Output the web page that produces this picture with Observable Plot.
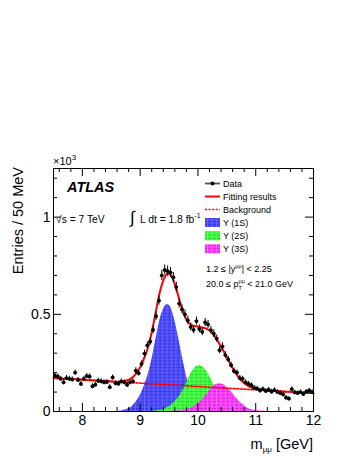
<!DOCTYPE html>
<html><head><meta charset="utf-8">
<script src="https://cdn.jsdelivr.net/npm/d3@7"></script>
<script src="https://cdn.jsdelivr.net/npm/@observablehq/plot@0.6"></script>
<style>
body{margin:0;background:#fff;}
svg text{font-family:"Liberation Sans",Arial,Helvetica,sans-serif;}
</style>
</head><body><div id="chart"></div>
<script>
// ---- data (units: 10^3 entries per 50 MeV bin) ----
const binLow = 7.5, binWidth = 0.05;
const dataVals = [
 0.185,0.180,0.168,0.150,0.172,0.168,0.165,0.200,0.162,0.142,
 0.168,0.182,0.180,0.130,0.138,0.158,0.155,0.150,0.152,0.125,
 0.175,0.145,0.143,0.155,0.150,0.137,0.150,0.155,0.210,0.197,
 0.245,0.298,0.340,0.360,0.420,0.490,0.570,0.700,0.728,0.722,
 0.715,0.690,0.640,0.555,0.525,0.500,0.470,0.435,0.420,0.465,
 0.425,0.410,0.458,0.448,0.418,0.400,0.375,0.315,0.335,0.290,
 0.268,0.238,0.208,0.200,0.172,0.168,0.150,0.142,0.135,0.122,
 0.118,0.108,0.115,0.105,0.112,0.102,0.110,0.100,0.095,0.088,
 0.071,0.066,0.115,0.098,0.095,0.100,0.090,0.102,0.108,0.100];
const dataErr = [
 0.013,0.013,0.013,0.013,0.013,0.013,0.013,0.014,0.013,0.013,
 0.013,0.013,0.013,0.013,0.013,0.013,0.013,0.013,0.013,0.013,
 0.013,0.013,0.013,0.013,0.013,0.013,0.013,0.013,0.015,0.015,
 0.016,0.017,0.018,0.019,0.020,0.021,0.023,0.026,0.026,0.026,
 0.026,0.025,0.025,0.023,0.023,0.022,0.021,0.020,0.020,0.021,
 0.020,0.020,0.021,0.021,0.020,0.020,0.019,0.018,0.018,0.017,
 0.016,0.015,0.015,0.014,0.013,0.013,0.012,0.012,0.012,0.012,
 0.012,0.012,0.012,0.012,0.012,0.012,0.012,0.012,0.012,0.012,
 0.011,0.011,0.011,0.011,0.011,0.011,0.011,0.011,0.011,0.011];
const fitVals = [
 0.172,0.171,0.170,0.169,0.168,0.167,0.166,0.166,0.165,0.164,
 0.163,0.162,0.161,0.160,0.160,0.159,0.158,0.157,0.156,0.155,
 0.154,0.153,0.153,0.155,0.157,0.161,0.167,0.178,0.194,0.216,
 0.242,0.280,0.320,0.374,0.443,0.519,0.594,0.652,0.691,0.709,
 0.704,0.675,0.631,0.578,0.528,0.488,0.460,0.448,0.440,0.438,
 0.435,0.432,0.429,0.421,0.412,0.394,0.372,0.347,0.320,0.293,
 0.265,0.237,0.211,0.188,0.168,0.153,0.140,0.130,0.123,0.118,
 0.115,0.112,0.110,0.108,0.107,0.107,0.106,0.105,0.104,0.103,
 0.102,0.101,0.101,0.100,0.099,0.098,0.097,0.096,0.095,0.095];
const fitEdgeMass = [7.5, 12];
const fitEdgeVals = [0.172, 0.094];
const bgMass = [7.5, 12];
const bgVals = [0.172, 0.094];
const ups1S = [
 0,0,0,0,0,0,0,0,0,0,
 0,0,0,0,0,0,0,0,0,0,
 0,0,0.001,0.003,0.006,0.011,0.018,0.030,0.047,0.069,
 0.096,0.135,0.176,0.231,0.300,0.375,0.449,0.504,0.539,0.551,
 0.537,0.497,0.436,0.365,0.289,0.218,0.155,0.106,0.068,0.042,
 0.024,0.013,0.007,0.003,0.002,0.001,0,0,0,0,
 0,0,0,0,0,0,0,0,0,0,
 0,0,0,0,0,0,0,0,0,0,
 0,0,0,0,0,0,0,0,0,0];
const ups2S = [
 0,0,0,0,0,0,0,0,0,0,
 0,0,0,0,0,0,0,0,0,0,
 0,0,0,0,0,0,0,0,0,0,
 0,0,0,0,0.001,0.003,0.005,0.008,0.013,0.020,
 0.030,0.041,0.058,0.076,0.100,0.129,0.161,0.193,0.217,0.232,
 0.237,0.232,0.217,0.195,0.168,0.138,0.109,0.082,0.059,0.041,
 0.027,0.017,0.010,0.006,0.003,0.002,0.001,0,0,0,
 0,0,0,0,0,0,0,0,0,0,
 0,0,0,0,0,0,0,0,0,0];
const ups3S = [
 0,0,0,0,0,0,0,0,0,0,
 0,0,0,0,0,0,0,0,0,0,
 0,0,0,0,0,0,0,0,0,0,
 0,0,0,0,0,0,0,0,0,0,
 0,0.001,0.002,0.003,0.005,0.008,0.012,0.018,0.025,0.035,
 0.046,0.060,0.078,0.097,0.117,0.131,0.140,0.143,0.140,0.131,
 0.118,0.101,0.083,0.065,0.049,0.036,0.025,0.016,0.010,0.006,
 0.004,0.002,0.001,0,0,0,0,0,0,0,
 0,0,0,0,0,0,0,0,0,0];
const xMajorTicks = [8, 9, 10, 11, 12];
const xTickLabels = ["8", "9", "10", "11", "12"];
const xMinorTicks = [7.6,7.8,8.2,8.4,8.6,8.8,9.2,9.4,9.6,9.8,10.2,10.4,10.6,10.8,11.2,11.4,11.6,11.8];
const yMajorTicks = [0, 0.5, 1];
const yTickLabels = ["0", "0.5", "1"];
const yMinorTicks = [0.1,0.2,0.3,0.4,0.6,0.7,0.8,0.9,1.1,1.2];
const legendLabels = ["Data", "Fitting results", "Background", "Υ (1S)", "Υ (2S)", "Υ (3S)"];

// ---- build tables ----
const rows = dataVals.map((v, i) => ({
  m: binLow + binWidth * (i + 0.5), v, e: dataErr[i],
  s1: ups1S[i], s2: ups2S[i], s3: ups3S[i]
}));
const fitRows = [{m: fitEdgeMass[0], v: fitEdgeVals[0]}]
  .concat(rows.map((r, i) => ({m: r.m, v: fitVals[i]})))
  .concat([{m: fitEdgeMass[1], v: fitEdgeVals[1]}]);
const bgRows = bgMass.map((m, i) => ({m, v: bgVals[i]}));

// layout
const W = 357, H = 462, mL = 53, mR = 44, mT = 168, mB = 51;
const frameW = W - mL - mR, frameH = H - mT - mB;
const majorLen = 8, minorLen = 4;

const plot = Plot.plot({
  width: W, height: H,
  marginLeft: mL, marginRight: mR, marginTop: mT, marginBottom: mB,
  x: {domain: [7.5, 12], label: null},
  y: {domain: [0, 1.25], label: null},
  style: {background: "white", color: "black", fontFamily: "'Liberation Sans', Arial, sans-serif", fontSize: "14px", overflow: "visible"},
  marks: [
    Plot.areaY(rows, {x: "m", y: "s1", fill: "url(#pat1S)", curve: "monotone-x"}),
    Plot.areaY(rows, {x: "m", y: "s2", fill: "url(#pat2S)", curve: "monotone-x"}),
    Plot.areaY(rows, {x: "m", y: "s3", fill: "url(#pat3S)", curve: "monotone-x"}),
    Plot.line(bgRows, {x: "m", y: "v", stroke: "#ff0000", strokeWidth: 1.6, strokeDasharray: "2,1.6"}),
    Plot.line(fitRows, {x: "m", y: "v", stroke: "#ff0000", strokeWidth: 2, curve: "monotone-x"}),
    Plot.ruleX(rows, {x: "m", y1: r => r.v - r.e, y2: r => r.v + r.e, stroke: "black", strokeWidth: 1}),
    Plot.ruleY(rows, {y: "v", x1: r => r.m - binWidth / 2, x2: r => r.m + binWidth / 2, stroke: "black", strokeWidth: 1}),
    Plot.dot(rows, {x: "m", y: "v", r: 1.9, fill: "black", stroke: null}),
    Plot.frame({stroke: "black", strokeWidth: 1}),
    // inward ticks (bottom, top, left, right)
    Plot.tickX(xMinorTicks, {x: d => d, insetTop: frameH - minorLen, stroke: "black"}),
    Plot.tickX(xMajorTicks, {x: d => d, insetTop: frameH - majorLen, stroke: "black"}),
    Plot.tickX(xMinorTicks, {x: d => d, insetBottom: frameH - minorLen, stroke: "black"}),
    Plot.tickX(xMajorTicks, {x: d => d, insetBottom: frameH - majorLen, stroke: "black"}),
    Plot.tickY(yMinorTicks, {y: d => d, insetRight: frameW - minorLen, stroke: "black"}),
    Plot.tickY(yMajorTicks, {y: d => d, insetRight: frameW - majorLen, stroke: "black"}),
    Plot.tickY(yMinorTicks, {y: d => d, insetLeft: frameW - minorLen, stroke: "black"}),
    Plot.tickY(yMajorTicks, {y: d => d, insetLeft: frameW - majorLen, stroke: "black"}),
    // tick labels
    Plot.axisX(xMajorTicks, {anchor: "bottom", tickSize: 0, tickPadding: 4, tickFormat: d => xTickLabels[xMajorTicks.indexOf(d)], label: null}),
    Plot.axisY(yMajorTicks, {anchor: "left", tickSize: 0, tickPadding: 3, tickFormat: d => yTickLabels[yMajorTicks.indexOf(d)], label: null})
  ]
});
document.getElementById("chart").appendChild(plot);

// ---- patterns ----
const svg = d3.select(plot);
const defs = svg.insert("defs", ":first-child");
function addPattern(id, base, line, light) {
  const p = defs.append("pattern").attr("id", id).attr("patternUnits", "userSpaceOnUse")
    .attr("width", 4.5).attr("height", 3.4);
  p.append("rect").attr("width", 4.5).attr("height", 3.4).attr("fill", base);
  p.append("path").attr("d", "M0,0.5H4.5").attr("stroke", line).attr("stroke-width", 0.7);
  p.append("path").attr("d", "M0.5,0V3.4").attr("stroke", light).attr("stroke-width", 0.6);
}
addPattern("pat1S", "#4d4dff", "#2b2bc8", "#7a7aff");
addPattern("pat2S", "#3cff3c", "#1fbf1f", "#80ff80");
addPattern("pat3S", "#ff3cff", "#c21fc2", "#ff85ff");

// ---- texts ----
const g = svg.append("g").attr("fill", "black").attr("text-anchor", "start");
function txt(x, y, size, str) {
  return g.append("text").attr("x", x).attr("y", y).attr("font-size", size).attr("text-anchor", "start").text(str);
}
// x10^3
const t10 = txt(53, 165, 11, "×10");
t10.append("tspan").attr("dy", -5).attr("font-size", 8).text("3");
// ATLAS
txt(67, 192, 14.5, "ATLAS").attr("font-weight", "bold").attr("font-style", "italic");
// sqrt s, luminosity
txt(56, 222.5, 10.3, "√s = 7 TeV");
txt(130, 222.5, 17, "∫").attr("font-family", "DejaVu Sans, sans-serif");
const lum = txt(140, 222.5, 10.3, "L dt = 1.8 fb");
lum.append("tspan").attr("dy", -4.5).attr("font-size", 7).text("-1");

// legend
const lx0 = 205, lx1 = 220, tx = 223;
const rowY = [183.5, 196.5, 209.5, 222.5, 235.8, 248.8];
g.append("line").attr("x1", lx0).attr("x2", lx1).attr("y1", rowY[0]).attr("y2", rowY[0]).attr("stroke", "#555").attr("stroke-width", 1.8);
g.append("circle").attr("cx", (lx0 + lx1) / 2).attr("cy", rowY[0]).attr("r", 2).attr("fill", "black");
g.append("line").attr("x1", lx0).attr("x2", lx1).attr("y1", rowY[1]).attr("y2", rowY[1]).attr("stroke", "#ff0000").attr("stroke-width", 2);
g.append("line").attr("x1", lx0).attr("x2", lx1).attr("y1", rowY[2]).attr("y2", rowY[2]).attr("stroke", "#ff0000").attr("stroke-width", 1.6).attr("stroke-dasharray", "2,1.6");
["pat1S", "pat2S", "pat3S"].forEach((p, k) => {
  g.append("rect").attr("x", lx0).attr("y", rowY[3 + k] - 4.5).attr("width", lx1 - lx0).attr("height", 9).attr("fill", `url(#${p})`);
});
legendLabels.forEach((s, k) => txt(tx, rowY[k] + 3.3, 9, s));

// cuts
const c1 = txt(206, 272, 9, "1.2 ≤ |y");
c1.append("tspan").attr("dy", -4).attr("font-size", 5.5).text("μμ");
c1.append("tspan").attr("dy", 4).attr("font-size", 9).text("| < 2.25");
const c2 = txt(206, 287, 9, "20.0 ≤ p");
c2.append("tspan").attr("dy", -4).attr("font-size", 5.5).text("μμ");
c2.append("tspan").attr("dx", -6.2).attr("dy", 6.5).attr("font-size", 5.5).text("T");
c2.append("tspan").attr("dx", 2.8).attr("dy", -2.5).attr("font-size", 9).text(" < 21.0 GeV");

// axis titles
const xt = txt(313, 449, 14.5, "m").attr("text-anchor", "end");
xt.append("tspan").attr("dy", 3).attr("font-size", 8).text("μμ");
xt.append("tspan").attr("dy", -3).attr("font-size", 14.5).text(" [GeV]");
g.append("text").attr("transform", "translate(23,167) rotate(-90)").attr("text-anchor", "end")
  .attr("font-size", 14.5).text("Entries / 50 MeV");
</script>
</body></html>
